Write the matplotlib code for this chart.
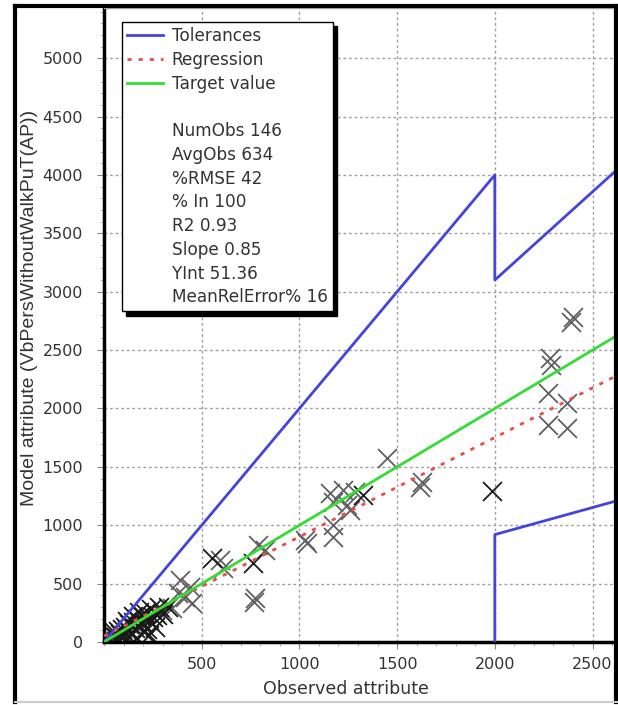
import matplotlib
matplotlib.use("Agg")
import matplotlib.pyplot as plt
from matplotlib.lines import Line2D
from matplotlib.ticker import MultipleLocator

plt.rcParams['font.family'] = ['DejaVu Sans']

# lines
tol_up_x = [0, 2000, 2000, 2615]
tol_up_y = [0, 4000, 3100, 4030]
tol_lo_x = [2000, 2000, 2615]
tol_lo_y = [0, 920, 1205]
reg_x = [0, 2615]
reg_y = [51, 2274]
tgt_x = [0, 2615]
tgt_y = [0, 2615]

# observed / model points (gray)
obs_x = [2400, 2390, 2280, 2285, 2270, 2367, 2270, 2367,
         1447, 1615, 1625,
         1155, 1222, 1283, 1171, 1242, 1258, 1171, 1171, 1028, 1038,
         787, 823, 770, 775, 593, 608,
         389, 440, 414, 450, 296, 261, 350, 380]
mod_y = [2780, 2740, 2430, 2370, 2134, 2049, 1860, 1834,
         1577, 1330, 1370,
         1277, 1303, 1286, 1200, 1174, 1131, 1003, 900, 874, 849,
         831, 788, 340, 375, 703, 634,
         531, 471, 386, 334, 274, 249, 290, 420]

# darker points
dark_x = [1985, 1324, 762, 552, 327, 30, 45, 60, 70, 80, 90, 100, 110, 120, 130, 140,
          150, 160, 170, 180, 190, 200, 210, 220, 230, 240, 250, 260, 270, 280,
          150, 120, 200, 230, 170, 60, 40, 90, 130, 180, 300]
dark_y = [1290, 1260, 677, 720, 300, 20, 60, 40, 90, 70, 110, 60, 130, 100, 150, 80,
          170, 120, 200, 140, 230, 160, 250, 110, 190, 280, 210, 130, 230, 300,
          220, 180, 90, 60, 30, 10, 100, 30, 40, 260, 240]

labels = ["NumObs 146", "AvgObs 634", "%RMSE 42", "% In 100", "R2 0.93",
          "Slope 0.85", "YInt 51.36", "MeanRelError% 16"]

fig = plt.figure(figsize=(6.18, 7.05), dpi=100)
ax = fig.add_axes([104/618, 63/705, 511/618, 634/705])

ax.grid(True, color='#a0a0a0', linestyle=(0, (2, 2)), linewidth=1)
ax.set_axisbelow(True)

ax.scatter(obs_x, mod_y, marker='x', s=185, color='#606060', linewidths=1.3, zorder=2)
ax.scatter(dark_x, dark_y, marker='x', s=185, color='#1a1a1a', linewidths=1.3, zorder=2)

ax.plot(tol_up_x, tol_up_y, color='#4444dd', lw=2, zorder=3)
ax.plot(tol_lo_x, tol_lo_y, color='#4444dd', lw=2, zorder=3)
ax.plot(reg_x, reg_y, color='#e84c4c', lw=2, linestyle=(0, (1.5, 2.5)), zorder=3)
ax.plot(tgt_x, tgt_y, color='#33dd33', lw=2, zorder=3)

ax.set_xlim(0, 2615)
ax.set_ylim(0, 5430)
ax.set_xticks([500, 1000, 1500, 2000, 2500])
ax.set_yticks(range(0, 5001, 500))
ax.xaxis.set_minor_locator(MultipleLocator(100))
ax.yaxis.set_minor_locator(MultipleLocator(100))
ax.tick_params(which='major', length=5, color='#888888', labelsize=11.5, labelcolor='#333333')
ax.tick_params(which='minor', length=3, color='#aaaaaa')
ax.tick_params(axis='x', pad=6)
ax.tick_params(axis='y', pad=10)

for s in ['left', 'bottom']:
    ax.spines[s].set_linewidth(2.5)
    ax.spines[s].set_color('black')
ax.spines['top'].set_linewidth(1)
ax.spines['top'].set_color('#aaaaaa')
ax.spines['right'].set_visible(False)

ax.set_xlabel('Observed attribute', fontsize=12.5, color='#333333')
ax.xaxis.set_label_coords(0.474, -0.06)
ax.set_ylabel('Model attribute (VbPersWithoutWalkPuT(AP))', fontsize=14,
              family='Liberation Sans', color='#333333')
ax.yaxis.set_label_coords(-0.129, 0.527)

handles = [Line2D([], [], color='#4444dd', lw=2),
           Line2D([], [], color='#e84c4c', lw=2, linestyle=(0, (1.5, 2.5))),
           Line2D([], [], color='#33dd33', lw=2),
           Line2D([], [], color='none')]
texts = ['Tolerances', 'Regression', 'Target value', ' ']
for t in labels:
    handles.append(Line2D([], [], color='none'))
    texts.append(t)

leg = ax.legend(handles, texts, loc='upper left', bbox_to_anchor=(0.035, 0.978),
                borderaxespad=0, fontsize=12.2, frameon=True, fancybox=False,
                edgecolor='black', framealpha=1, handlelength=2.1, handletextpad=0.55,
                labelspacing=0.34, borderpad=0.3,
                shadow={'color': 'black', 'alpha': 1, 'ox': 3, 'oy': -3})
leg.get_frame().set_linewidth(1)
for t in leg.get_texts():
    t.set_color('#333333')

# outer frame
fig.add_artist(Line2D([15/618, 15/618], [3/705, 699/705], color='black', lw=3))
fig.add_artist(Line2D([15/618, 617/618], [699/705, 699/705], color='black', lw=3))
fig.add_artist(Line2D([616/618, 616/618], [3/705, 699/705], color='black', lw=3))
fig.add_artist(Line2D([15/618, 617/618], [3/705, 3/705], color='#cccccc', lw=1.5))

fig.savefig('out.png', dpi=100)
